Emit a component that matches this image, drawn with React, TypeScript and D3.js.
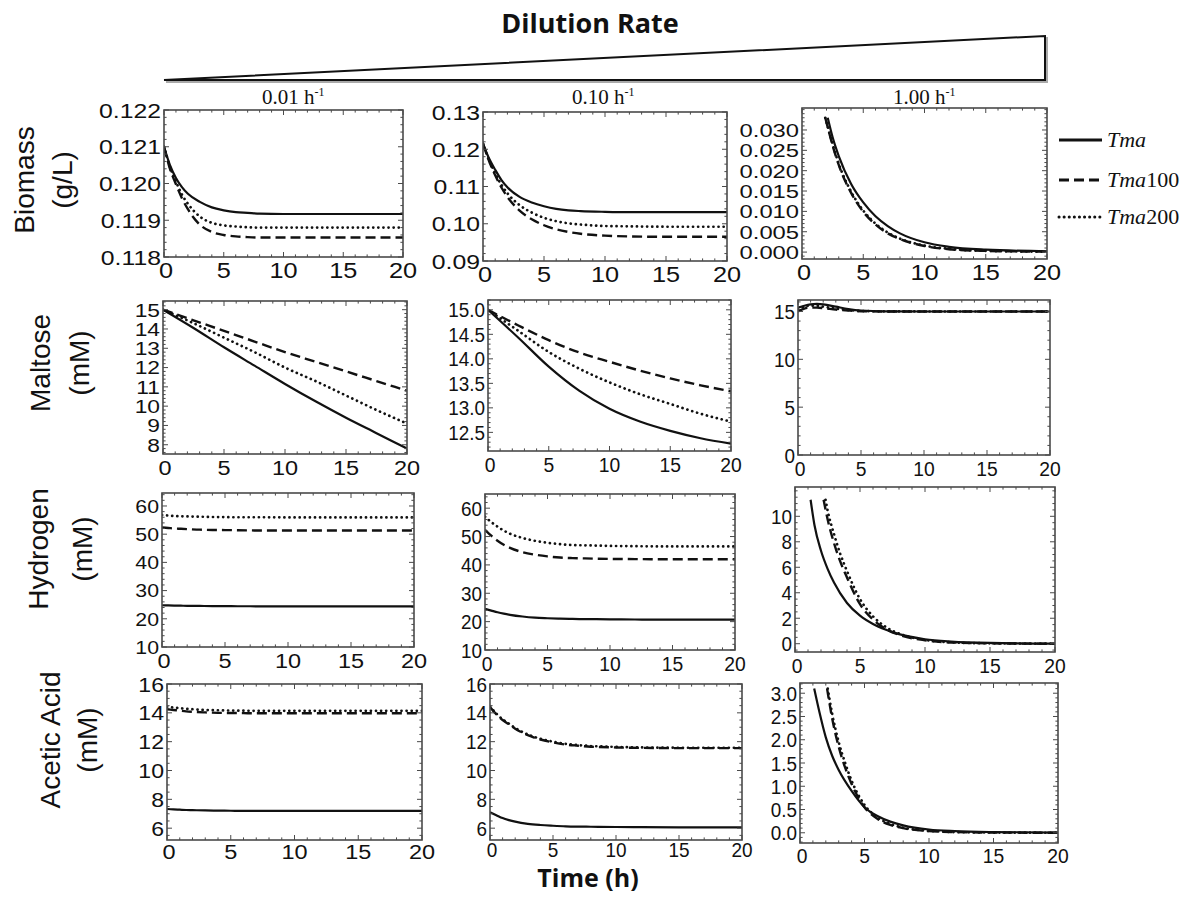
import React from 'react';
import * as d3 from 'd3';

// ---------------- DATA ----------------
const columnRates = ['0.01', '0.10', '1.00'];
const rowLabels = [['Biomass', '(g/L)'], ['Maltose', '(mM)'], ['Hydrogen', '(mM)'], ['Acetic Acid', '(mM)']];
const legendNames = ['', '100', '200'];
const xTicks = [0, 5, 10, 15, 20];

const T = [0, 0.5, 1, 1.5, 2, 3, 4, 5, 6, 7, 8, 10, 12, 15, 20];
const TM = [0, 2.5, 5, 7.5, 10, 12.5, 15, 17.5, 20];
const TM3 = [0, 0.5, 1, 1.5, 2, 3, 4, 5, 7, 10, 20];

// Biomass
const bio001Tma = [0.1210, 0.12050, 0.12015, 0.11990, 0.11972, 0.11950, 0.11935, 0.11927, 0.11922, 0.11920, 0.11918, 0.11917, 0.11917, 0.11917, 0.11917];
const bio001Tma100 = [0.1210, 0.12040, 0.11998, 0.11960, 0.11930, 0.11888, 0.11868, 0.11860, 0.11856, 0.11854, 0.11853, 0.11853, 0.11853, 0.11853, 0.11853];
const bio001Tma200 = [0.1210, 0.12045, 0.12005, 0.11970, 0.11945, 0.11910, 0.11893, 0.11886, 0.11883, 0.11881, 0.11880, 0.11880, 0.11880, 0.11880, 0.11880];

const bio010Tma = [0.1215, 0.1175, 0.1145, 0.1118, 0.1098, 0.1072, 0.1057, 0.1047, 0.1040, 0.1036, 0.1034, 0.1032, 0.1031, 0.1031, 0.1031];
const bio010Tma100 = [0.1215, 0.1168, 0.1130, 0.1098, 0.1072, 0.1035, 0.1012, 0.0996, 0.0985, 0.0978, 0.0973, 0.0968, 0.0966, 0.0965, 0.0965];
const bio010Tma200 = [0.1215, 0.1170, 0.1135, 0.1105, 0.1082, 0.1050, 0.1030, 0.1016, 0.1007, 0.1001, 0.0998, 0.0994, 0.0993, 0.0992, 0.0992];

const bio100TTma = [2.1, 2.5, 3, 4, 5, 6, 7, 8, 10, 12, 15, 20];
const bio100Tma = [0.0330, 0.0282, 0.0236, 0.0168, 0.0122, 0.0088, 0.0064, 0.0046, 0.0024, 0.0013, 0.0006, 0.0002];
const bio100TOther = [1.9, 2.5, 3, 4, 5, 6, 7, 8, 10, 12, 15, 20];
const bio100Tma100 = [0.0330, 0.0262, 0.0214, 0.0146, 0.0099, 0.0068, 0.0046, 0.0032, 0.0015, 0.0007, 0.0003, 0.0001];
const bio100Tma200 = [0.0330, 0.0265, 0.0217, 0.0149, 0.0102, 0.0070, 0.0048, 0.0033, 0.0016, 0.0008, 0.0003, 0.0001];

// Maltose
const mal001Tma = [15.0, 14.05, 13.05, 12.1, 11.15, 10.25, 9.4, 8.6, 7.8];
const mal001Tma100 = [15.0, 14.45, 13.9, 13.35, 12.8, 12.3, 11.8, 11.3, 10.8];
const mal001Tma200 = [15.0, 14.3, 13.55, 12.8, 12.0, 11.3, 10.55, 9.8, 9.1];

const mal010Tma = [15.0, 14.43, 13.84, 13.35, 12.98, 12.72, 12.53, 12.38, 12.27];
const mal010Tma100 = [15.0, 14.68, 14.38, 14.13, 13.94, 13.76, 13.6, 13.46, 13.34];
const mal010Tma200 = [15.0, 14.57, 14.14, 13.8, 13.52, 13.28, 13.08, 12.88, 12.72];

const mal100Tma = [15.4, 15.6, 15.75, 15.8, 15.75, 15.5, 15.25, 15.1, 15.02, 15.0, 15.0];
const mal100Tma100 = [15.0, 15.3, 15.4, 15.4, 15.35, 15.2, 15.1, 15.03, 15.0, 15.0, 15.0];
const mal100Tma200 = [15.2, 15.5, 15.6, 15.6, 15.5, 15.3, 15.15, 15.05, 15.01, 15.0, 15.0];

// Hydrogen
const h2001Tma = [24.8, 24.75, 24.7, 24.65, 24.6, 24.55, 24.5, 24.5, 24.45, 24.45, 24.4, 24.4, 24.4, 24.4, 24.4];
const h2001Tma100 = [52.4, 52.2, 52.0, 51.9, 51.8, 51.6, 51.5, 51.45, 51.4, 51.35, 51.3, 51.3, 51.3, 51.3, 51.3];
const h2001Tma200 = [56.8, 56.6, 56.45, 56.35, 56.3, 56.2, 56.1, 56.05, 56.0, 56.0, 56.0, 55.95, 55.95, 55.95, 55.95];

const h2010Tma = [24.5, 23.9, 23.3, 22.8, 22.4, 21.8, 21.4, 21.2, 21.05, 20.95, 20.9, 20.8, 20.75, 20.7, 20.7];
const h2010Tma100 = [52.4, 50.3, 48.5, 47.1, 46.0, 44.5, 43.6, 43.0, 42.6, 42.4, 42.3, 42.1, 42.05, 42.0, 42.0];
const h2010Tma200 = [57.0, 55.1, 53.5, 52.1, 51.0, 49.5, 48.5, 47.8, 47.3, 47.0, 46.9, 46.7, 46.6, 46.5, 46.5];

const h2100TTma = [1.2, 1.5, 2, 2.5, 3, 4, 5, 6, 7, 8, 10, 12, 15, 20];
const h2100Tma = [11.3, 9.3, 7.3, 5.9, 4.8, 3.2, 2.2, 1.55, 1.1, 0.75, 0.35, 0.17, 0.06, 0.01];
const h2100TTma100 = [2.2, 2.5, 3, 3.5, 4, 5, 6, 7, 8, 10, 12, 15, 20];
const h2100Tma100 = [11.3, 9.8, 7.9, 6.4, 5.2, 3.1, 1.9, 1.15, 0.7, 0.27, 0.1, 0.03, 0.0];
const h2100TTma200 = [2.35, 2.5, 3, 3.5, 4, 5, 6, 7, 8, 10, 12, 15, 20];
const h2100Tma200 = [11.3, 10.5, 8.6, 7.0, 5.7, 3.5, 2.15, 1.3, 0.8, 0.3, 0.11, 0.03, 0.0];

// Acetic acid
const ac001Tma = [7.33, 7.3, 7.28, 7.26, 7.25, 7.23, 7.22, 7.21, 7.2, 7.2, 7.2, 7.2, 7.2, 7.2, 7.2];
const ac001Tma100 = [14.25, 14.2, 14.15, 14.1, 14.07, 14.03, 14.0, 13.99, 13.98, 13.97, 13.97, 13.97, 13.97, 13.97, 13.97];
const ac001Tma200 = [14.42, 14.37, 14.32, 14.28, 14.25, 14.2, 14.18, 14.16, 14.15, 14.14, 14.14, 14.14, 14.14, 14.14, 14.14];

const ac010Tma = [7.1, 6.9, 6.7, 6.56, 6.45, 6.3, 6.22, 6.17, 6.13, 6.11, 6.1, 6.08, 6.07, 6.06, 6.05];
const ac010Tma100 = [14.4, 13.9, 13.5, 13.2, 12.9, 12.45, 12.15, 11.95, 11.8, 11.72, 11.65, 11.6, 11.57, 11.55, 11.55];
const ac010Tma200 = [14.45, 13.95, 13.55, 13.25, 12.95, 12.5, 12.2, 12.0, 11.85, 11.76, 11.7, 11.64, 11.6, 11.58, 11.58];

const ac100TTma = [1.1, 1.5, 2, 2.5, 3, 4, 5, 6, 7, 8, 10, 12, 15, 20];
const ac100Tma = [3.1, 2.6, 2.05, 1.65, 1.35, 0.9, 0.55, 0.36, 0.24, 0.16, 0.07, 0.035, 0.015, 0.005];
const ac100TTma100 = [2.1, 2.5, 3, 3.5, 4, 5, 6, 7, 8, 10, 12, 15, 20];
const ac100Tma100 = [3.1, 2.45, 1.85, 1.4, 1.05, 0.55, 0.3, 0.17, 0.1, 0.035, 0.015, 0.005, 0.0];
const ac100TTma200 = [2.15, 2.5, 3, 3.5, 4, 5, 6, 7, 8, 10, 12, 15, 20];
const ac100Tma200 = [3.1, 2.55, 1.95, 1.5, 1.12, 0.6, 0.33, 0.19, 0.11, 0.04, 0.015, 0.005, 0.0];

// y ticks
const yTicksBio001 = [0.118, 0.119, 0.120, 0.121, 0.122];
const yTicksBio010 = [0.09, 0.10, 0.11, 0.12, 0.13];
const yTicksBio100 = [0, 0.005, 0.010, 0.015, 0.020, 0.025, 0.030];
const yTicksMal001 = [8, 9, 10, 11, 12, 13, 14, 15];
const yTicksMal010 = [12.5, 13.0, 13.5, 14.0, 14.5, 15.0];
const yTicksMal100 = [0, 5, 10, 15];
const yTicksH2 = [10, 20, 30, 40, 50, 60];
const yTicksH2100 = [0, 2, 4, 6, 8, 10];
const yTicksAc = [6, 8, 10, 12, 14, 16];
const yTicksAc100 = [0, 0.5, 1.0, 1.5, 2.0, 2.5, 3.0];

// ---------------- LAYOUT ----------------
type Kind = 'solid' | 'dashed' | 'dotted';
interface Series { t: number[]; v: number[]; kind: Kind }
interface PanelSpec {
  x0: number; x1: number; y0: number; y1: number;
  yDomain: [number, number]; yTicks: number[]; yFmt: (n: number) => string; yMinor: number;
  series: Series[]; yFont: number; xFont: number; ySx: number; xSx: number; xOff: number;
}

const f3 = d3.format('.3f');
const f2 = d3.format('.2f');
const f1 = d3.format('.1f');
const f0 = d3.format('d');

const trio = (t1: number[], a: number[], t2: number[], b: number[], t3: number[], c: number[]): Series[] => [
  { t: t1, v: a, kind: 'solid' },
  { t: t2, v: b, kind: 'dashed' },
  { t: t3, v: c, kind: 'dotted' },
];

const panels: PanelSpec[] = [
  // row 1
  { x0: 164, x1: 403, y0: 110, y1: 257, yDomain: [0.118, 0.122], yTicks: yTicksBio001, yFmt: f3, yMinor: 0.0002,
    series: trio(T, bio001Tma, T, bio001Tma100, T, bio001Tma200), yFont: 21, xFont: 22, ySx: 1.18, xSx: 1.15, xOff: 21 },
  { x0: 483, x1: 727, y0: 112, y1: 261, yDomain: [0.09, 0.13], yTicks: yTicksBio010, yFmt: f2, yMinor: 0.002,
    series: trio(T, bio010Tma, T, bio010Tma100, T, bio010Tma200), yFont: 21, xFont: 22, ySx: 1.18, xSx: 1.15, xOff: 21 },
  { x0: 802, x1: 1047, y0: 108, y1: 259, yDomain: [-0.0017, 0.0354], yTicks: yTicksBio100, yFmt: f3, yMinor: 0.001,
    series: trio(bio100TTma, bio100Tma, bio100TOther, bio100Tma100, bio100TOther, bio100Tma200), yFont: 19, xFont: 22, ySx: 1.25, xSx: 1.15, xOff: 21 },
  // row 2
  { x0: 163, x1: 407, y0: 301, y1: 454, yDomain: [7.52, 15.45], yTicks: yTicksMal001, yFmt: f0, yMinor: 0.2,
    series: trio(TM, mal001Tma, TM, mal001Tma100, TM, mal001Tma200), yFont: 19, xFont: 21, ySx: 1.2, xSx: 1.12, xOff: 21 },
  { x0: 488, x1: 731, y0: 300, y1: 451, yDomain: [12.12, 15.2], yTicks: yTicksMal010, yFmt: f1, yMinor: 0.1,
    series: trio(TM, mal010Tma, TM, mal010Tma100, TM, mal010Tma200), yFont: 21, xFont: 21, ySx: 0.9, xSx: 0.92, xOff: 21 },
  { x0: 798, x1: 1050, y0: 300, y1: 455, yDomain: [0, 16.2], yTicks: yTicksMal100, yFmt: f0, yMinor: 1,
    series: trio(TM3, mal100Tma, TM3, mal100Tma100, TM3, mal100Tma200), yFont: 21, xFont: 21, ySx: 0.9, xSx: 0.92, xOff: 21 },
  // row 3
  { x0: 162, x1: 414, y0: 493, y1: 647, yDomain: [10, 64.6], yTicks: yTicksH2, yFmt: f0, yMinor: 2,
    series: trio(T, h2001Tma, T, h2001Tma100, T, h2001Tma200), yFont: 19, xFont: 21, ySx: 1.12, xSx: 1.12, xOff: 21 },
  { x0: 485, x1: 735, y0: 494, y1: 650, yDomain: [10, 65], yTicks: yTicksH2, yFmt: f0, yMinor: 2,
    series: trio(T, h2010Tma, T, h2010Tma100, T, h2010Tma200), yFont: 21, xFont: 21, ySx: 0.9, xSx: 0.92, xOff: 21 },
  { x0: 795, x1: 1055, y0: 487, y1: 652, yDomain: [-0.65, 12.3], yTicks: yTicksH2100, yFmt: f0, yMinor: 0.5,
    series: trio(h2100TTma, h2100Tma, h2100TTma100, h2100Tma100, h2100TTma200, h2100Tma200), yFont: 21, xFont: 21, ySx: 0.9, xSx: 0.92, xOff: 21 },
  // row 4
  { x0: 167, x1: 422, y0: 684, y1: 840, yDomain: [5.18, 16], yTicks: yTicksAc, yFmt: f0, yMinor: 0.5,
    series: trio(T, ac001Tma, T, ac001Tma100, T, ac001Tma200), yFont: 21, xFont: 21, ySx: 1.1, xSx: 1.12, xOff: 19 },
  { x0: 490, x1: 742, y0: 684, y1: 840, yDomain: [5.18, 16], yTicks: yTicksAc, yFmt: f0, yMinor: 0.5,
    series: trio(T, ac010Tma, T, ac010Tma100, T, ac010Tma200), yFont: 21, xFont: 20, ySx: 0.9, xSx: 0.95, xOff: 17 },
  { x0: 800, x1: 1058, y0: 683, y1: 843, yDomain: [-0.22, 3.22], yTicks: yTicksAc100, yFmt: f1, yMinor: 0.1,
    series: trio(ac100TTma, ac100Tma, ac100TTma100, ac100Tma100, ac100TTma200, ac100Tma200), yFont: 21, xFont: 21, ySx: 0.9, xSx: 0.92, xOff: 20 },
];

const strokeFor = (k: Kind) => {
  if (k === 'solid') return { strokeWidth: 2.2 };
  if (k === 'dashed') return { strokeWidth: 2.4, strokeDasharray: '10 5' };
  return { strokeWidth: 2.7, strokeDasharray: '0.1 5', strokeLinecap: 'round' as const };
};

const FRAME = '#4a4a4a';
const SANS = '"Liberation Sans", Arial, sans-serif';
const SERIF = '"Liberation Serif", "Times New Roman", serif';

function Panel({ p, id }: { p: PanelSpec; id: number }) {
  const xs = d3.scaleLinear().domain([0, 20]).range([p.x0, p.x1]);
  const ys = d3.scaleLinear().domain(p.yDomain).range([p.y1, p.y0]);
  const line = d3.line<[number, number]>().x(d => xs(d[0])).y(d => ys(d[1])).curve(d3.curveMonotoneX);
  const xMinor = d3.range(0, 21, 1).filter(v => v % 5 !== 0);
  const m = p.yMinor;
  const yMinor = d3.range(Math.ceil(p.yDomain[0] / m - 1e-9), Math.floor(p.yDomain[1] / m + 1e-9) + 1)
    .map(i => i * m)
    .filter(v => !p.yTicks.some(t => Math.abs(t - v) < m * 1e-3));
  const MJ = 5, MN = 2.6;
  const tk: React.ReactNode[] = [];
  xTicks.forEach((v, i) => {
    const x = xs(v);
    tk.push(<line key={'xb' + i} x1={x} x2={x} y1={p.y1} y2={p.y1 - MJ} />);
    tk.push(<line key={'xt' + i} x1={x} x2={x} y1={p.y0} y2={p.y0 + MJ} />);
  });
  xMinor.forEach((v, i) => {
    const x = xs(v);
    tk.push(<line key={'xmb' + i} x1={x} x2={x} y1={p.y1} y2={p.y1 - MN} />);
    tk.push(<line key={'xmt' + i} x1={x} x2={x} y1={p.y0} y2={p.y0 + MN} />);
  });
  p.yTicks.forEach((v, i) => {
    const y = ys(v);
    tk.push(<line key={'yl' + i} x1={p.x0} x2={p.x0 + MJ} y1={y} y2={y} />);
    tk.push(<line key={'yr' + i} x1={p.x1} x2={p.x1 - MJ} y1={y} y2={y} />);
  });
  yMinor.forEach((v, i) => {
    const y = ys(v);
    tk.push(<line key={'yml' + i} x1={p.x0} x2={p.x0 + MN} y1={y} y2={y} />);
    tk.push(<line key={'ymr' + i} x1={p.x1} x2={p.x1 - MN} y1={y} y2={y} />);
  });
  return (
    <g>
      <defs>
        <clipPath id={'clip' + id}>
          <rect x={p.x0} y={p.y0} width={p.x1 - p.x0} height={p.y1 - p.y0} />
        </clipPath>
      </defs>
      <g clipPath={`url(#clip${id})`} fill="none" stroke="#111">
        {p.series.map((s, i) => (
          <path key={i} d={line(s.t.map((t, j) => [t, s.v[j]] as [number, number])) || ''} {...strokeFor(s.kind)} />
        ))}
      </g>
      <g stroke={FRAME} strokeWidth={1}>{tk}</g>
      <rect x={p.x0} y={p.y0} width={p.x1 - p.x0} height={p.y1 - p.y0} fill="none" stroke={FRAME} strokeWidth={1.6} />
      <g fontFamily={SANS} fontSize={p.yFont} fill="#111" textAnchor="end">
        {p.yTicks.map((v, i) => (
          <text key={i} transform={`translate(${p.x0 - 3},${ys(v)}) scale(${p.ySx},1)`} dy="0.36em">{p.yFmt(v)}</text>
        ))}
      </g>
      <g fontFamily={SANS} fontSize={p.xFont} fill="#111" textAnchor="middle">
        {xTicks.map((v, i) => (
          <text key={i} transform={`translate(${xs(v) + (i === 0 ? 2 : 0)},${p.y1 + p.xOff}) scale(${p.xSx},1)`}>{v}</text>
        ))}
      </g>
    </g>
  );
}

const rowLabelPos = [
  { cy: 180, b1: 34, b2: 72 },
  { cy: 363, b1: 50, b2: 89 },
  { cy: 549, b1: 48, b2: 92 },
  { cy: 740, b1: 60, b2: 97 },
];
const headerX = [262, 572, 893];
const legendY = [140, 180, 217];
const legendKinds: Kind[] = ['solid', 'dashed', 'dotted'];

export default function App() {
  return (
    <svg width={1191} height={897} style={{ position: 'absolute', left: 0, top: 0, background: '#fff' }}>
      <rect x={0} y={0} width={1191} height={897} fill="#fff" />
      {/* title */}
      <text x={590} y={33} textAnchor="middle" fontFamily='"Open Sans", sans-serif' fontWeight={700} fontSize={27} fill="#111">Dilution Rate</text>
      {/* wedge */}
      <polygon points="166,82 1047,38 1047,82" fill="none" stroke="#aaa" strokeWidth={2} />
      <polygon points="164,80 1045,36 1045,80" fill="#fff" stroke="#111" strokeWidth={2} strokeLinejoin="miter" />
      {/* column headers */}
      {columnRates.map((r, i) => (
        <text key={i} x={headerX[i]} y={104} fontFamily={SERIF} fontSize={21} fill="#111">
          {r} h<tspan fontSize={12} dy={-8}>-1</tspan>
        </text>
      ))}
      {/* row labels */}
      {rowLabels.map((lbl, i) => (
        <g key={i} fontFamily={SANS} fontSize={28} fill="#111" textAnchor="middle">
          <text transform={`translate(${rowLabelPos[i].b1},${rowLabelPos[i].cy}) rotate(-90)`}>{lbl[0]}</text>
          <text transform={`translate(${rowLabelPos[i].b2},${rowLabelPos[i].cy}) rotate(-90)`}>{lbl[1]}</text>
        </g>
      ))}
      {panels.map((p, i) => <Panel key={i} p={p} id={i} />)}
      {/* legend */}
      {legendNames.map((n, i) => (
        <g key={i}>
          <line x1={1059} x2={1102} y1={legendY[i]} y2={legendY[i]} stroke="#111" fill="none" {...strokeFor(legendKinds[i])} strokeWidth={3} />
          <text x={1107} y={legendY[i] + 7} fontFamily={SERIF} fontSize={22} fill="#111">
            <tspan fontStyle="italic">Tma</tspan>{n}
          </text>
        </g>
      ))}
      {/* x-axis title */}
      <text x={588} y={887} textAnchor="middle" fontFamily='"Open Sans", sans-serif' fontWeight={700} fontSize={25} fill="#111">Time (h)</text>
    </svg>
  );
}
